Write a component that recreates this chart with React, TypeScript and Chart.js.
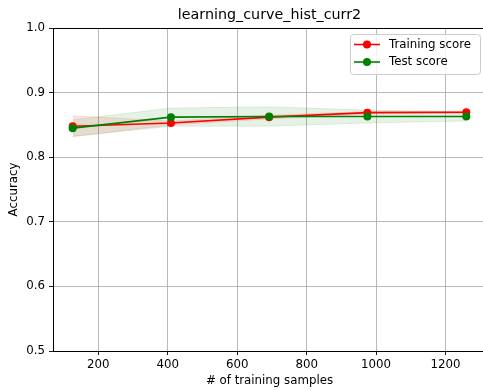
import React, { useEffect, useRef } from "react";
import { Chart, registerables } from "chart.js";

Chart.register(...registerables);

const sizes = [126, 409, 692, 975, 1260];
const trainMean = [0.848, 0.853, 0.862, 0.869, 0.8695];
const trainStd = [0.016, 0.003, 0.003, 0.002, 0.002];
const testMean = [0.845, 0.862, 0.863, 0.863, 0.863];
const testStd = [0.013, 0.014, 0.015, 0.010, 0.007];
const xTicks = [200, 400, 600, 800, 1000, 1200];
const yTicks = [0.5, 0.6, 0.7, 0.8, 0.9, 1.0];

const titleText = "learning_curve_hist_curr2";
const xLabel = "# of training samples";
const yLabel = "Accuracy";
const legendLabels = ["Training score", "Test score"];

const RED = "#ff0000";
const GREEN = "#008000";
const FONT = "'DejaVu Sans', sans-serif";
const FS = 11.8;

const pts = (ys: number[]) => sizes.map((x, i) => ({ x, y: ys[i] }));

const textPlugin = {
  id: "mplText",
  afterDraw(chart: any) {
    const { ctx, chartArea } = chart;
    const { left, right, top, bottom } = chartArea;
    ctx.save();
    // top spine
    ctx.strokeStyle = "#000";
    ctx.lineWidth = 1;
    ctx.beginPath();
    ctx.moveTo(left, top + 0.5);
    ctx.lineTo(right, top + 0.5);
    ctx.stroke();
    // title
    ctx.fillStyle = "#000";
    ctx.font = `14.3px ${FONT}`;
    ctx.textAlign = "center";
    ctx.textBaseline = "middle";
    ctx.fillText(titleText, (left + right) / 2, 15);
    // axis labels
    ctx.font = `${FS}px ${FONT}`;
    ctx.fillText(xLabel, (left + right) / 2, 381);
    ctx.save();
    ctx.translate(14, (top + bottom) / 2);
    ctx.rotate(-Math.PI / 2);
    ctx.fillText(yLabel, 0, 0);
    ctx.restore();
    // legend
    const lx = 350.5, ly = 34.5, lw = 130, lh = 40;
    ctx.beginPath();
    (ctx as any).roundRect(lx, ly, lw, lh, 3);
    ctx.fillStyle = "rgba(255,255,255,0.8)";
    ctx.fill();
    ctx.strokeStyle = "#cccccc";
    ctx.lineWidth = 1;
    ctx.stroke();
    const colors = [RED, GREEN];
    legendLabels.forEach((lab, i) => {
      const yy = 44.5 + i * 17.5;
      ctx.strokeStyle = colors[i];
      ctx.lineWidth = 1.6;
      ctx.beginPath();
      ctx.moveTo(354, yy);
      ctx.lineTo(380, yy);
      ctx.stroke();
      ctx.fillStyle = colors[i];
      ctx.beginPath();
      ctx.arc(367, yy, 4, 0, Math.PI * 2);
      ctx.fill();
      ctx.fillStyle = "#000";
      ctx.textAlign = "left";
      ctx.font = `${FS}px ${FONT}`;
      ctx.fillText(lab, 389, yy);
    });
    ctx.restore();
  },
};

export default function App() {
  const ref = useRef<HTMLCanvasElement>(null);
  useEffect(() => {
    if (!ref.current) return;
    const band = (ys: number[], sd: number[], sign: number) =>
      ys.map((m, i) => m + sign * sd[i]);
    const chart = new Chart(ref.current, {
      type: "line",
      data: {
        datasets: [
          {
            label: "trainLow",
            data: pts(band(trainMean, trainStd, -1)),
            borderColor: "rgba(255,0,0,0.1)",
            borderWidth: 1,
            pointRadius: 0,
            fill: false,
            order: 4,
          },
          {
            label: "trainHigh",
            data: pts(band(trainMean, trainStd, 1)),
            borderColor: "rgba(255,0,0,0.1)",
            backgroundColor: "rgba(255,0,0,0.1)",
            borderWidth: 1,
            pointRadius: 0,
            fill: "-1",
            order: 3,
          },
          {
            label: "testLow",
            data: pts(band(testMean, testStd, -1)),
            borderColor: "rgba(0,128,0,0.1)",
            borderWidth: 1,
            pointRadius: 0,
            fill: false,
            order: 2.5,
          },
          {
            label: "testHigh",
            data: pts(band(testMean, testStd, 1)),
            borderColor: "rgba(0,128,0,0.1)",
            backgroundColor: "rgba(0,128,0,0.1)",
            borderWidth: 1,
            pointRadius: 0,
            fill: "-1",
            order: 2,
          },
          {
            label: legendLabels[0],
            data: pts(trainMean),
            borderColor: RED,
            backgroundColor: RED,
            borderWidth: 1.6,
            pointRadius: 4,
            pointBorderWidth: 0,
            fill: false,
            order: 1,
          },
          {
            label: legendLabels[1],
            data: pts(testMean),
            borderColor: GREEN,
            backgroundColor: GREEN,
            borderWidth: 1.6,
            pointRadius: 4,
            pointBorderWidth: 0,
            fill: false,
            order: 0,
          },
        ],
      },
      options: {
        responsive: false,
        animation: false,
        devicePixelRatio: 1,
        layout: { padding: { top: 28, right: 3, left: 0, bottom: 0 } },
        plugins: {
          legend: { display: false },
          title: { display: false },
          tooltip: { enabled: false },
        },
        scales: {
          x: {
            type: "linear",
            min: 69.3,
            max: 1316.7,
            afterBuildTicks: (s: any) => {
              s.ticks = xTicks.map((v) => ({ value: v }));
            },
            afterFit: (s: any) => {
              s.height = 39;
            },
            ticks: {
              color: "#000",
              font: { family: FONT, size: FS },
              padding: 3,
              maxRotation: 0,
              autoSkip: false,
              callback: (v: any) => String(v),
            },
            grid: {
              color: "#b0b0b0",
              lineWidth: 0.9,
              tickColor: "#000",
              tickLength: 4,
            },
            border: { color: "#000", width: 1 },
          },
          y: {
            type: "linear",
            min: 0.5,
            max: 1.0,
            afterBuildTicks: (s: any) => {
              s.ticks = yTicks.map((v) => ({ value: v }));
            },
            afterFit: (s: any) => {
              s.width = 53;
            },
            ticks: {
              color: "#000",
              font: { family: FONT, size: FS },
              padding: 4,
              autoSkip: false,
              callback: (v: any) => Number(v).toFixed(1),
            },
            grid: {
              color: "#b0b0b0",
              lineWidth: 0.9,
              tickColor: "#000",
              tickLength: 4,
            },
            border: { color: "#000", width: 1 },
          },
        },
      },
      plugins: [textPlugin],
    } as any);
    return () => chart.destroy();
  }, []);
  return (
    <div
      style={{
        position: "fixed",
        left: 0,
        top: 0,
        width: 483,
        height: 390,
        overflow: "hidden",
        background: "#fff",
      }}
    >
      <canvas ref={ref} width={490} height={390} />
    </div>
  );
}
